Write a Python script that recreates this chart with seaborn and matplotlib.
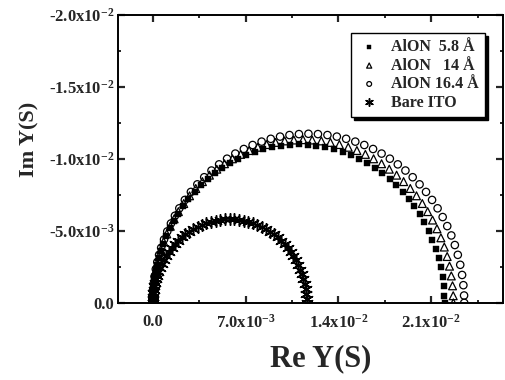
import numpy as np
import matplotlib
matplotlib.use("Agg")
import matplotlib.pyplot as plt
import seaborn as sns

# admittance data, in mS (Im given as magnitude, plotted negative)
re_58 = [0, 0.007, 0.026, 0.070, 0.135, 0.221, 0.327, 0.453, 0.600, 0.801, 1.031, 1.288, 1.571, 1.881,
         2.273, 2.698, 3.154, 3.640, 4.153, 4.690, 5.253, 5.836, 6.438, 7.058, 7.692, 8.339, 8.996, 9.659,
         10.329, 11.0, 11.671, 12.341, 13.004, 13.661, 14.308, 14.942, 15.562, 16.165, 16.748, 17.310,
         17.848, 18.360, 18.846, 19.302, 19.727, 20.119, 20.478, 20.801, 21.088, 21.337, 21.547, 21.718,
         21.849, 21.940, 21.989, 22.0]
im_58 = [0, 0.384, 0.768, 1.245, 1.720, 2.193, 2.661, 3.124, 3.582, 4.121, 4.649, 5.165, 5.665, 6.151,
         6.697, 7.217, 7.710, 8.174, 8.609, 9.011, 9.379, 9.712, 10.010, 10.270, 10.491, 10.673, 10.816,
         10.918, 10.979, 11.0, 10.979, 10.918, 10.816, 10.673, 10.491, 10.270, 10.010, 9.712, 9.379, 9.011,
         8.609, 8.174, 7.710, 7.217, 6.697, 6.151, 5.583, 4.994, 4.386, 3.762, 3.124, 2.475, 1.815, 1.150,
         0.480, 0]

re_14 = [0, 0.007, 0.027, 0.073, 0.139, 0.228, 0.336, 0.467, 0.617, 0.825, 1.062, 1.327, 1.618, 1.937,
         2.341, 2.779, 3.248, 3.749, 4.277, 4.831, 5.410, 6.011, 6.631, 7.269, 7.923, 8.589, 9.266, 9.949,
         10.639, 11.33, 12.021, 12.711, 13.394, 14.071, 14.737, 15.391, 16.029, 16.649, 17.250, 17.829,
         18.383, 18.911, 19.412, 19.881, 20.319, 20.723, 21.092, 21.425, 21.721, 21.977, 22.193, 22.370,
         22.505, 22.598, 22.649, 22.66]
im_14 = [0, 0.395, 0.791, 1.283, 1.772, 2.259, 2.741, 3.218, 3.689, 4.244, 4.788, 5.319, 5.835, 6.336,
         6.898, 7.434, 7.941, 8.419, 8.867, 9.282, 9.660, 10.003, 10.310, 10.578, 10.805, 10.994, 11.141,
         11.245, 11.308, 11.33, 11.308, 11.245, 11.141, 10.994, 10.805, 10.578, 10.310, 10.003, 9.660,
         9.282, 8.867, 8.419, 7.941, 7.434, 6.898, 6.336, 5.750, 5.144, 4.517, 3.875, 3.218, 2.549, 1.869,
         1.184, 0.494, 0]

re_164 = [0, 0.007, 0.028, 0.075, 0.144, 0.236, 0.349, 0.484, 0.640, 0.855, 1.100, 1.375, 1.676, 2.008,
          2.425, 2.880, 3.366, 3.885, 4.432, 5.006, 5.606, 6.228, 6.871, 7.532, 8.210, 8.900, 9.601, 10.309,
          11.024, 11.74, 12.456, 13.171, 13.879, 14.580, 15.270, 15.948, 16.609, 17.252, 17.874, 18.474,
          19.048, 19.595, 20.114, 20.600, 21.055, 21.472, 21.855, 22.200, 22.507, 22.772, 22.996, 23.179,
          23.319, 23.415, 23.468, 23.48]
im_164 = [0, 0.410, 0.819, 1.329, 1.836, 2.341, 2.840, 3.334, 3.823, 4.398, 4.961, 5.512, 6.046, 6.565,
          7.147, 7.703, 8.229, 8.724, 9.188, 9.617, 10.010, 10.365, 10.683, 10.960, 11.196, 11.391, 11.544,
          11.652, 11.718, 11.74, 11.718, 11.652, 11.544, 11.391, 11.196, 10.960, 10.683, 10.365, 10.010,
          9.617, 9.188, 8.724, 8.229, 7.703, 7.147, 6.565, 5.958, 5.330, 4.681, 4.015, 3.334, 2.642, 1.937,
          1.227, 0.512, 0]

re_ito = [0, 0.003, 0.014, 0.037, 0.071, 0.117, 0.172, 0.239, 0.316, 0.422, 0.543, 0.679, 0.828, 0.992,
          1.198, 1.423, 1.663, 1.919, 2.190, 2.473, 2.770, 3.077, 3.395, 3.721, 4.056, 4.397, 4.743, 5.093,
          5.446, 5.8, 6.154, 6.507, 6.857, 7.203, 7.544, 7.879, 8.205, 8.523, 8.831, 9.127, 9.411, 9.681,
          9.937, 10.177, 10.402, 10.608, 10.797, 10.968, 11.119, 11.250, 11.361, 11.452, 11.521, 11.568,
          11.594, 11.6]
im_ito = [0, 0.202, 0.405, 0.657, 0.907, 1.157, 1.403, 1.647, 1.888, 2.173, 2.451, 2.723, 2.987, 3.243,
          3.531, 3.805, 4.065, 4.310, 4.539, 4.751, 4.945, 5.121, 5.278, 5.415, 5.531, 5.628, 5.703, 5.757,
          5.789, 5.8, 5.789, 5.757, 5.703, 5.628, 5.531, 5.415, 5.278, 5.121, 4.945, 4.751, 4.539, 4.310,
          4.065, 3.805, 3.531, 3.243, 2.944, 2.633, 2.312, 1.984, 1.647, 1.305, 0.957, 0.606, 0.253, 0]

labels = ["AlON  5.8 Å", "AlON   14 Å", "AlON 16.4 Å", "Bare ITO"]

xticks = [0.0, 7.0e-3, 1.4e-2, 2.1e-2]
xticklabels = ["0.0", "7.0x10$^{-3}$", "1.4x10$^{-2}$", "2.1x10$^{-2}$"]
yticks = [0.0, -5.0e-3, -1.0e-2, -1.5e-2, -2.0e-2]
yticklabels = ["0.0", "-5.0x10$^{-3}$", "-1.0x10$^{-2}$", "-1.5x10$^{-2}$", "-2.0x10$^{-2}$"]

sns.set_style("ticks")
plt.rcParams['font.family'] = ['Liberation Serif', 'DejaVu Serif']
plt.rcParams['font.weight'] = 'bold'
plt.rcParams['mathtext.fontset'] = 'custom'
plt.rcParams['mathtext.rm'] = 'Liberation Serif:bold'
plt.rcParams['mathtext.it'] = 'Liberation Serif:bold'
plt.rcParams['mathtext.bf'] = 'Liberation Serif:bold'
plt.rcParams['mathtext.default'] = 'rm'

fig = plt.figure(figsize=(5.05, 3.8), dpi=100)
ax = fig.add_axes([0.234, 0.203, 0.762, 0.758])

def mS(v, sign=1):
    return sign * np.array(v) * 1e-3

sns.scatterplot(x=mS(re_58), y=mS(im_58, -1), ax=ax, marker='s', s=24, color='black',
                edgecolor='black', linewidth=0.3, label=labels[0], zorder=3)
sns.scatterplot(x=mS(re_14), y=mS(im_14, -1), ax=ax, marker='^', s=32, color='none',
                edgecolor='black', linewidth=0.9, label=labels[1], zorder=3)
sns.scatterplot(x=mS(re_164), y=mS(im_164, -1), ax=ax, marker='o', s=28, color='none',
                edgecolor='black', linewidth=0.9, label=labels[2], zorder=3)
sns.scatterplot(x=mS(re_ito), y=mS(im_ito, -1), ax=ax, marker=(6, 2, 0), s=70, color='black',
                linewidth=1.1, label=labels[3], zorder=3)

ax.set_xticks(xticks)
ax.set_xticklabels(xticklabels, fontsize=12, fontweight='bold')
ax.set_yticks(yticks)
ax.set_yticklabels(yticklabels, fontsize=12, fontweight='bold')
ax.set_xticks(np.arange(-1, 8) * 3.5e-3, minor=True)
ax.set_yticks(np.arange(0, 9) * -2.5e-3, minor=True)
ax.set_xlim(-0.0026, 0.0264)
ax.set_ylim(0.0, -0.02)

ax.tick_params(which='major', direction='in', length=5, width=1.6, top=True, right=True, pad=8)
ax.tick_params(axis='y', which='major', pad=3)
ax.tick_params(which='minor', direction='in', length=2.5, width=1.4, top=True, right=True)
for sp in ax.spines.values():
    sp.set_linewidth(1.4)
    sp.set_color('black')

ax.set_xlabel("Re Y(S)", fontsize=22, fontweight='bold')
ax.set_ylabel("Im Y(S)", fontsize=16, fontweight='bold')
ax.xaxis.set_label_coords(0.525, -0.145)
ax.yaxis.set_label_coords(-0.205, 0.566)

leg = ax.legend(loc='upper right', bbox_to_anchor=(0.953, 0.937), borderaxespad=0,
                frameon=True, fancybox=False, shadow={'color': 'black', 'alpha': 1},
                prop={'weight': 'bold', 'size': 11.5}, labelspacing=0.15,
                handletextpad=0.6, borderpad=0.4, handlelength=1.5, markerscale=0.65)
leg.get_frame().set_edgecolor('black')
leg.get_frame().set_linewidth(1.0)

fig.savefig("out.png", dpi=100)
